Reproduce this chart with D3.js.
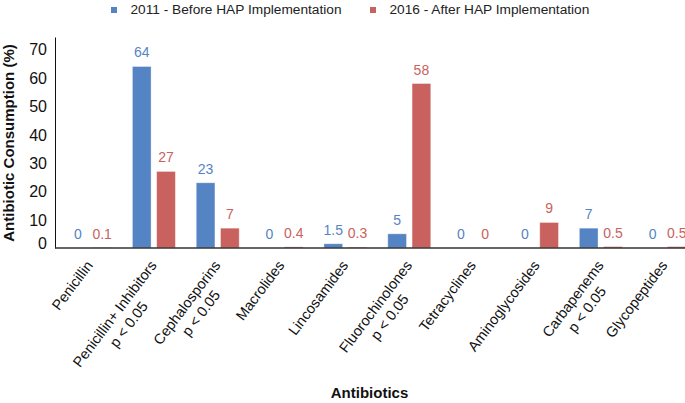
<!DOCTYPE html>
<html>
<head>
<meta charset="utf-8">
<script src="https://cdn.jsdelivr.net/npm/d3@7"></script>
<style>
  html, body { margin: 0; padding: 0; background: #fff; }
  svg { display: block; font-family: "Liberation Sans", Arial, Helvetica, sans-serif; }
</style>
</head>
<body>
<svg id="chart" width="685" height="403"></svg>
<script>
const categories = [
  "Penicillin",
  "Penicillin+ Inhibitors\np < 0.05",
  "Cephalosporins\np < 0.05",
  "Macrolides",
  "Lincosamides",
  "Fluorochinolones\np < 0.05",
  "Tetracyclines",
  "Aminoglycosides",
  "Carbapenems\np < 0.05",
  "Glycopeptides"
];
const seriesNames = ["2011 - Before HAP Implementation", "2016 - After HAP Implementation"];
const values2011 = [0, 64, 23, 0, 1.5, 5, 0, 0, 7, 0];
const values2016 = [0.1, 27, 7, 0.4, 0.3, 58, 0, 9, 0.5, 0.5];
const yTicks = [0, 10, 20, 30, 40, 50, 60, 70];
const colors = ["#5584C4", "#C9625E"];

const svg = d3.select("#chart");
const x0 = d3.scaleBand().domain(categories).range([58.1, 696.6]).paddingInner(0.327).paddingOuter(0.1635);
const x1 = d3.scaleBand().domain([0, 1]).range([0, x0.bandwidth()]).paddingInner(0.23);
const y = d3.scaleLinear().domain([0, 74.4]).range([248, 37]);

const rows = categories.map((c, i) => ({ cat: c, vals: [values2011[i], values2016[i]] }));

// Y axis
const yAxis = svg.append("g").attr("transform", "translate(55,0)")
  .call(d3.axisLeft(y).tickValues(yTicks).tickSize(0).tickPadding(8));
yAxis.select(".domain").attr("stroke", "#111").attr("stroke-width", 1);
yAxis.selectAll(".tick text").attr("font-size", 16).attr("fill", "#111")
  .attr("font-family", "Liberation Sans, Arial, sans-serif")
  .attr("dy", d => d === 0 ? "0em" : "0.34em");

// Bars
const g = svg.append("g");
const cg = g.selectAll("g.cat").data(rows).join("g").attr("class", "cat")
  .attr("transform", d => `translate(${x0(d.cat)},0)`);
cg.selectAll("rect").data(d => d.vals.map((v, k) => ({ v, k }))).join("rect")
  .attr("x", d => x1(d.k)).attr("width", x1.bandwidth())
  .attr("y", d => y(d.v)).attr("height", d => y(0) - y(d.v))
  .attr("fill", d => colors[d.k])
  .attr("stroke", "rgba(255,255,255,0.45)").attr("stroke-width", 0.8);
cg.selectAll("text").data(d => d.vals.map((v, k) => ({ v, k }))).join("text")
  .attr("x", d => x1(d.k) + x1.bandwidth() / 2)
  .attr("y", d => y(d.v) - 9)
  .attr("text-anchor", "middle").attr("font-size", 14)
  .attr("fill", d => colors[d.k]).text(d => d.v);

// X axis line
svg.append("line").attr("x1", 55).attr("x2", 685).attr("y1", y(0)).attr("y2", y(0))
  .attr("stroke", "#333").attr("stroke-width", 1.5);

// X labels
const xl = svg.append("g");
categories.forEach(c => {
  const cx = x0(c) + x0.bandwidth() / 2;
  const t = xl.append("text").attr("font-size", 14.5).attr("fill", "#111")
    .attr("transform", `translate(${cx + 3.5},${y(0) + 17.5}) rotate(-53)`);
  const lines = c.split("\n");
  const spans = lines.map((ln, i) => t.append("tspan").attr("y", i * 17.5).text(ln));
  const w0 = spans[0].node().getComputedTextLength();
  spans.forEach(s => s.attr("x", -w0 / 2).attr("text-anchor", "middle"));
});

// Axis titles
svg.append("text").attr("transform", `translate(14,143) rotate(-90)`)
  .attr("text-anchor", "middle").attr("font-size", 15).attr("font-weight", "bold")
  .attr("fill", "#111").text("Antibiotic Consumption (%)");
svg.append("text").attr("x", 369.5).attr("y", 398)
  .attr("text-anchor", "middle").attr("font-size", 15).attr("font-weight", "bold")
  .attr("fill", "#111").text("Antibiotics");

// Legend
const lg = svg.append("g");
const legX = [111, 370];
seriesNames.forEach((s, k) => {
  lg.append("rect").attr("x", legX[k]).attr("y", 7).attr("width", 6).attr("height", 6).attr("fill", colors[k]);
  lg.append("text").attr("x", legX[k] + 19.5).attr("y", 14).attr("font-size", 13.7).attr("fill", "#222").text(s);
});
</script>
</body>
</html>
